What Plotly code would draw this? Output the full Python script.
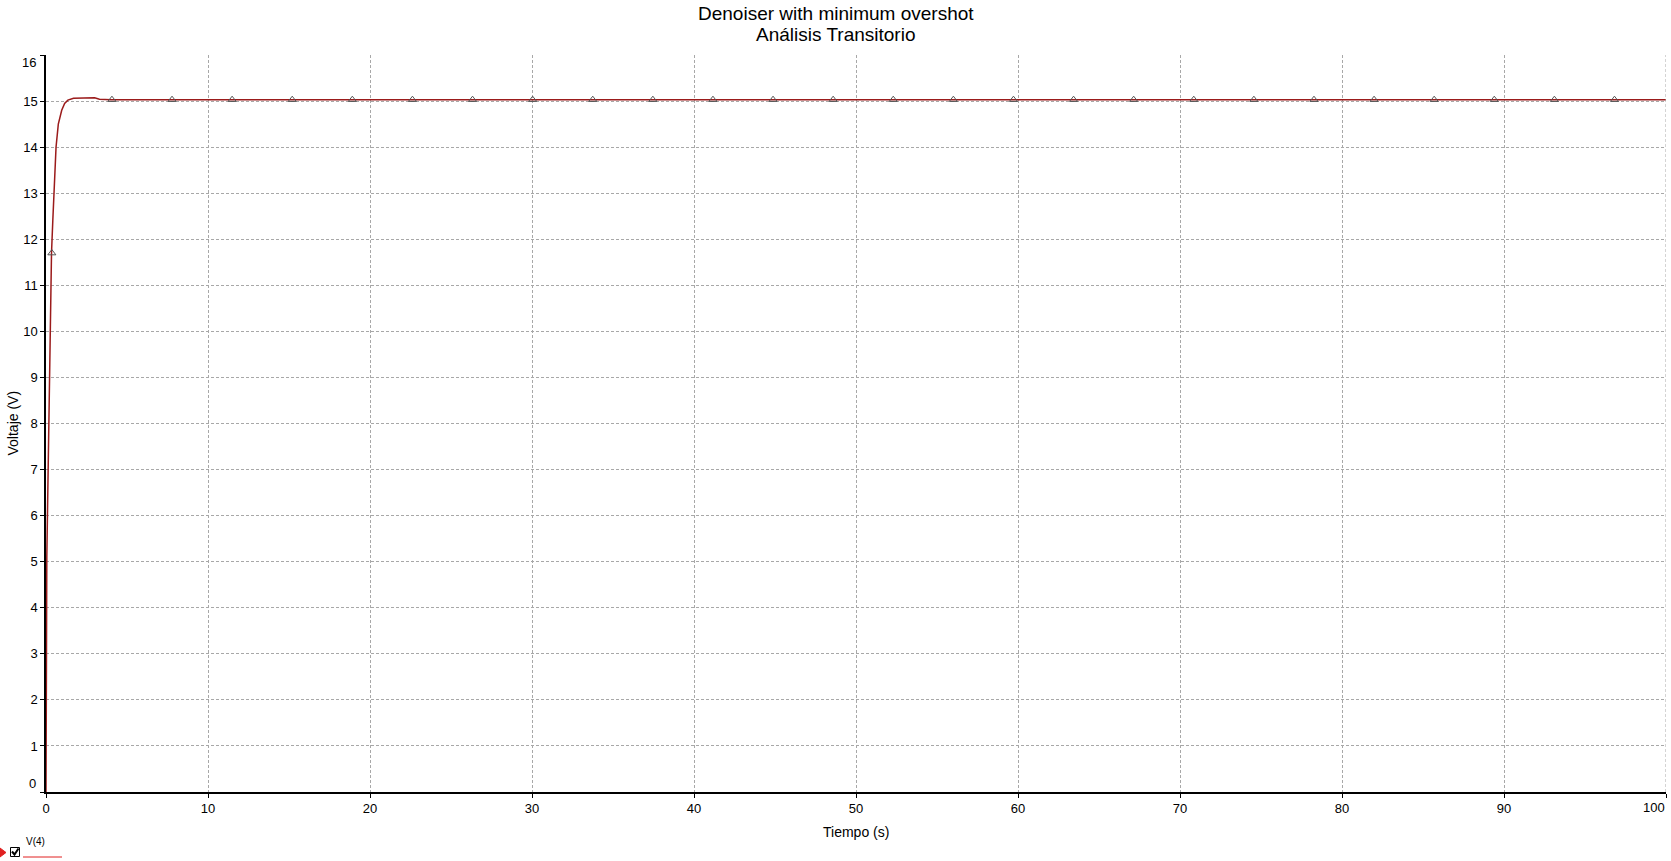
import plotly.graph_objects as go

# ---- data ----
time_s = [0.0, 0.01, 0.05, 0.15, 0.22, 0.28, 0.34, 0.42, 0.49, 0.55, 0.62,
          0.76, 0.97, 1.15, 1.35, 1.70, 2.50, 3.00, 3.30, 4.00, 100.0]
voltage_v = [0.0, 2.2, 5.1, 7.4, 9.1, 10.5, 11.7, 12.4, 13.0, 13.6, 14.0,
             14.5, 14.8, 14.95, 15.02, 15.06, 15.07, 15.07, 15.04, 15.03, 15.03]

marker_t = [0.36, 4.07, 7.78, 11.49, 15.20, 18.91, 22.62, 26.33, 30.04,
            33.75, 37.46, 41.17, 44.88, 48.59, 52.30, 56.01, 59.72, 63.43,
            67.14, 70.85, 74.56, 78.27, 81.98, 85.69, 89.40, 93.11, 96.82]
marker_v = [11.7] + [15.03] * 26

x_ticks = [0, 10, 20, 30, 40, 50, 60, 70, 80, 90, 100]
y_ticks = list(range(0, 17))

title_1 = "Denoiser with minimum overshot"
title_2 = "Análisis Transitorio"
x_title = "Tiempo (s)"
y_title = "Voltaje (V)"
legend_name = "V(4)"

LINE = "#9b1b1b"
FONT = "Liberation Sans"

fig = go.Figure()
fig.add_trace(go.Scatter(x=time_s, y=voltage_v, mode="lines",
                         line=dict(color=LINE, width=1.5), name=legend_name,
                         showlegend=False))
fig.add_trace(go.Scatter(x=marker_t, y=marker_v, mode="markers",
                         marker=dict(symbol="triangle-up-open", size=7,
                                     color="#555555", line=dict(width=1)),
                         showlegend=False, hoverinfo="skip"))

W, H = 1671, 861
L, R, T, B = 46, 5, 55, 69

# edge labels (first/last) are drawn separately, kept inside the frame as in the reference
x_text = [str(v) for v in x_ticks]
x_text[-1] = ""
y_text = [str(v) for v in y_ticks]
y_text[0] = ""
y_text[-1] = ""

fig.update_layout(
    width=W, height=H, autosize=False,
    margin=dict(l=L, r=R, t=T, b=B, pad=0),
    paper_bgcolor="white", plot_bgcolor="white",
    font=dict(family=FONT, size=13, color="black"),
    showlegend=False,
)
fig.update_xaxes(range=[0, 100], tickvals=x_ticks, ticktext=x_text,
                 showgrid=True, gridcolor="#a8a8a8", griddash="3px,2px", gridwidth=1,
                 showline=True, linecolor="black", linewidth=1.5,
                 ticks="outside", ticklen=4, tickcolor="black",
                 zeroline=False, tickfont=dict(size=13), automargin=False)
fig.update_yaxes(range=[0, 16], tickvals=y_ticks, ticktext=y_text,
                 showgrid=True, gridcolor="#a8a8a8", griddash="3px,2px", gridwidth=1,
                 showline=True, linecolor="black", linewidth=1.5,
                 ticks="outside", ticklen=4, tickcolor="black",
                 zeroline=False, tickfont=dict(size=13), automargin=False)

# right edge dashed line (gridline at x=100)
fig.add_shape(type="line", xref="x", yref="paper", x0=100, x1=100, y0=0, y1=1,
              line=dict(color="#a8a8a8", width=1, dash="3px,2px"))

def px(xp):
    return (xp - L) / (W - L - R)

def py(yp):
    return (H - B - yp) / (H - T - B)

# edge tick labels
fig.add_annotation(text=str(x_ticks[-1]), xref="x", yref="paper", x=x_ticks[-1], y=py(807),
                   xanchor="right", yanchor="middle", showarrow=False, xshift=1,
                   font=dict(size=13, family=FONT))
fig.add_annotation(text=str(y_ticks[0]), xref="paper", yref="paper", x=px(38), y=py(783),
                   xanchor="right", yanchor="middle", showarrow=False,
                   font=dict(size=13, family=FONT))
fig.add_annotation(text=str(y_ticks[-1]), xref="paper", yref="paper", x=px(38), y=py(63),
                   xanchor="right", yanchor="middle", showarrow=False,
                   font=dict(size=13, family=FONT))

# title lines
fig.add_annotation(text=title_1, xref="paper", yref="paper", x=px(W / 2), y=py(13),
                   xanchor="center", yanchor="middle",
                   showarrow=False, font=dict(size=19, family=FONT))
fig.add_annotation(text=title_2, xref="paper", yref="paper", x=px(W / 2), y=py(34.5),
                   xanchor="center", yanchor="middle",
                   showarrow=False, font=dict(size=19, family=FONT))

# axis titles
fig.add_annotation(text=x_title, xref="paper", yref="paper", x=0.5, y=py(832),
                   xanchor="center", yanchor="middle", showarrow=False,
                   font=dict(size=14, family=FONT))
fig.add_annotation(text=y_title, xref="paper", yref="paper", x=px(12), y=0.5,
                   xanchor="center", yanchor="middle", showarrow=False, textangle=-90,
                   font=dict(size=14, family=FONT))

# legend in bottom-left corner
fig.add_shape(type="path", xref="paper", yref="paper",
              path=f"M {px(0)},{py(848)} L {px(6)},{py(852.5)} L {px(0)},{py(857)} Z",
              fillcolor="#e02020", line=dict(color="#e02020", width=1))
fig.add_shape(type="rect", xref="paper", yref="paper",
              x0=px(10.5), x1=px(19.5), y0=py(856.5), y1=py(847.5),
              line=dict(color="black", width=1), fillcolor="white")
fig.add_shape(type="path", xref="paper", yref="paper",
              path=f"M {px(12)},{py(851.5)} L {px(14.5)},{py(854.5)} L {px(18.5)},{py(848.5)}",
              line=dict(color="black", width=2))
fig.add_shape(type="line", xref="paper", yref="paper",
              x0=px(23), x1=px(62), y0=py(857), y1=py(857),
              line=dict(color="#e02020", width=1))
fig.add_annotation(text=legend_name, xref="paper", yref="paper", x=px(24), y=py(849),
                   xanchor="left", yanchor="bottom", showarrow=False,
                   font=dict(size=10, family=FONT))

fig.write_html("out.html", config={"displayModeBar": False},
               post_script="document.body.style.margin='0';document.body.style.overflow='hidden';")
